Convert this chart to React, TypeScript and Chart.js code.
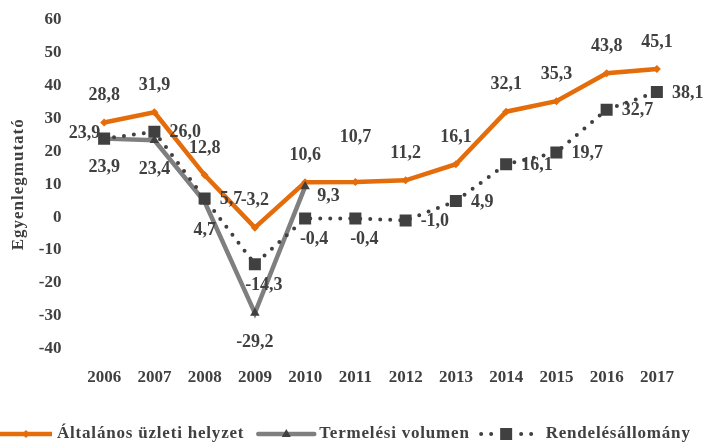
import React, { useEffect, useRef } from 'react';
import { Chart, registerables } from 'chart.js';

Chart.register(...registerables);

// ---- data ----
const YEARS = ['2006', '2007', '2008', '2009', '2010', '2011', '2012', '2013', '2014', '2015', '2016', '2017'];
const GENERAL = [28.8, 31.9, 12.8, -3.2, 10.6, 10.7, 11.2, 16.1, 32.1, 35.3, 43.8, 45.1];
const PRODUCTION = [23.9, 23.4, 4.7, -29.2, 9.3, null, null, null, null, null, null, null];
const ORDERS = [23.9, 26.0, 5.7, -14.3, -0.4, -0.4, -1.0, 4.9, 16.1, 19.7, 32.7, 38.1];
const SERIES_NAMES = ['Általános üzleti helyzet', 'Termelési volumen', 'Rendelésállomány'];
const Y_TITLE = 'Egyenlegmutató';
const Y_MIN = -40;
const Y_MAX = 60;
const Y_STEP = 10;

// ---- label placement (style, not data) ----
const GENERAL_LABEL_POS = ['above', 'above', 'above', 'above', 'above', 'above-high', 'above', 'above', 'above', 'above', 'above', 'above'];
const PRODUCTION_LABEL_POS = ['below', 'below', 'below', 'below', 'right-low'];
const ORDERS_LABEL_POS = ['left', 'right', 'right', 'below-right', 'below-right', 'below-right', 'right', 'right', 'right', 'right', 'right', 'right'];

const ORANGE = '#E46C0A';
const GREY = '#7F7F7F';
const DARK = '#404040';
const FONT = "'Liberation Serif', 'Times New Roman', serif";

const fmt = (v: number) => v.toFixed(1).replace('.', ',');

const labelsPlugin = {
  id: 'customLabels',
  afterDatasetsDraw(chart: any) {
    const ctx = chart.ctx;
    const posSets = [GENERAL_LABEL_POS, PRODUCTION_LABEL_POS, ORDERS_LABEL_POS];
    ctx.save();
    ctx.font = `bold 18px ${FONT}`;
    ctx.fillStyle = DARK;
    ctx.textBaseline = 'middle';
    chart.data.datasets.forEach((ds: any, di: number) => {
      const meta = chart.getDatasetMeta(di);
      meta.data.forEach((pt: any, i: number) => {
        const v = ds.data[i];
        if (v === null || v === undefined) return;
        const pos = posSets[di][i] || 'above';
        const { x, y } = pt;
        const t = fmt(v);
        let tx = x, ty = y;
        let align: CanvasTextAlign = 'center';
        switch (pos) {
          case 'above': ty = y - 27; break;
          case 'above-high': ty = y - 45; break;
          case 'below': ty = y + 29; break;
          case 'below-right': tx = x + 9; ty = y + 21; break;
          case 'right': align = 'left'; tx = x + 15; ty = y + 1; break;
          case 'right-low': align = 'left'; tx = x + 12; ty = y + 10; break;
          case 'left': align = 'right'; tx = x - 4; ty = y - 5; break;
        }
        ctx.textAlign = align;
        ctx.fillText(t, tx, ty);
      });
    });
    ctx.restore();
  },
};

function drawSample(ctx: CanvasRenderingContext2D, kind: number, x0: number, w: number, y: number) {
  ctx.save();
  if (kind === 0) {
    ctx.strokeStyle = ORANGE;
    ctx.lineWidth = 4.5;
    ctx.beginPath();
    ctx.moveTo(x0, y);
    ctx.lineTo(x0 + w, y);
    ctx.stroke();
    ctx.fillStyle = ORANGE;
    const cx = x0 + w / 2;
    ctx.beginPath();
    ctx.moveTo(cx, y - 4);
    ctx.lineTo(cx + 4, y);
    ctx.lineTo(cx, y + 4);
    ctx.lineTo(cx - 4, y);
    ctx.closePath();
    ctx.fill();
  } else if (kind === 1) {
    ctx.strokeStyle = GREY;
    ctx.lineWidth = 4.5;
    ctx.lineCap = 'round';
    ctx.beginPath();
    ctx.moveTo(x0 + 2, y);
    ctx.lineTo(x0 + w - 2, y);
    ctx.stroke();
    ctx.fillStyle = DARK;
    const cx = x0 + w / 2;
    ctx.beginPath();
    ctx.moveTo(cx, y - 5);
    ctx.lineTo(cx + 4.5, y + 3);
    ctx.lineTo(cx - 4.5, y + 3);
    ctx.closePath();
    ctx.fill();
  } else {
    ctx.fillStyle = DARK;
    const cx = x0 + w / 2;
    [-25, -15, 15, 25].forEach((d) => {
      ctx.beginPath();
      ctx.arc(cx + d, y, 2, 0, Math.PI * 2);
      ctx.fill();
    });
    ctx.fillRect(cx - 6, y - 6, 12, 12);
  }
  ctx.restore();
}

const decorPlugin = {
  id: 'decor',
  afterDraw(chart: any) {
    const ctx: CanvasRenderingContext2D = chart.ctx;
    const area = chart.chartArea;
    // y-axis title
    ctx.save();
    ctx.fillStyle = DARK;
    ctx.font = `bold 17px ${FONT}`;
    (ctx as any).letterSpacing = '1px';
    ctx.translate(19, (area.top + area.bottom) / 2);
    ctx.rotate(-Math.PI / 2);
    ctx.textAlign = 'center';
    ctx.textBaseline = 'middle';
    ctx.fillText(Y_TITLE, 0, 0);
    ctx.restore();

    // legend
    ctx.save();
    ctx.font = `bold 17px ${FONT}`;
    (ctx as any).letterSpacing = '0.8px';
    ctx.fillStyle = DARK;
    ctx.textBaseline = 'middle';
    ctx.textAlign = 'left';
    const y = 434;
    const sampleW = [52, 60, 57];
    const gapBefore = [0, 12, 8];
    const gapText = [5, 3, 11];
    let x = 0;
    SERIES_NAMES.forEach((name, i) => {
      x += gapBefore[i];
      drawSample(ctx, i, x, sampleW[i], y);
      x += sampleW[i] + gapText[i];
      ctx.fillText(name, x, y);
      x += ctx.measureText(name).width;
    });
    (ctx as any).letterSpacing = '0px';
    ctx.restore();
  },
};

export default function App() {
  const ref = useRef<HTMLCanvasElement | null>(null);

  useEffect(() => {
    if (!ref.current) return;
    const chart = new Chart(ref.current, {
      type: 'line',
      data: {
        labels: YEARS,
        datasets: [
          {
            label: SERIES_NAMES[0],
            data: GENERAL,
            borderColor: ORANGE,
            backgroundColor: ORANGE,
            borderWidth: 4.5,
            pointStyle: 'rectRot',
            pointRadius: 4,
            pointBorderWidth: 0,
            pointBackgroundColor: ORANGE,
            tension: 0,
            order: 2,
          },
          {
            label: SERIES_NAMES[1],
            data: PRODUCTION,
            borderColor: GREY,
            backgroundColor: DARK,
            borderWidth: 4.5,
            pointStyle: 'triangle',
            pointRadius: 5.5,
            pointBorderWidth: 0,
            pointBackgroundColor: DARK,
            tension: 0,
            spanGaps: false,
            order: 1,
          },
          {
            label: SERIES_NAMES[2],
            data: ORDERS,
            borderColor: DARK,
            backgroundColor: DARK,
            borderWidth: 4,
            borderDash: [0, 10],
            borderCapStyle: 'round',
            pointStyle: 'rect',
            pointRadius: 8.5,
            pointBorderWidth: 0,
            pointBackgroundColor: DARK,
            tension: 0,
            order: 0,
          },
        ] as any,
      },
      options: {
        responsive: false,
        animation: false,
        devicePixelRatio: 1,
        layout: { padding: { left: 0, right: 26, top: 20, bottom: 40 } },
        plugins: {
          legend: { display: false },
          tooltip: { enabled: false },
        },
        scales: {
          x: {
            offset: true,
            grid: { display: false, drawTicks: false },
            border: { display: false },
            afterFit: (scale: any) => {
              scale.paddingLeft = 0;
              scale.paddingRight = 0;
            },
            ticks: {
              color: DARK,
              font: { family: FONT, size: 17, weight: 'bold' },
              padding: 19,
              maxRotation: 0,
              autoSkip: false,
            },
          },
          y: {
            min: Y_MIN,
            max: Y_MAX,
            grid: { display: false, drawTicks: false },
            border: { display: false },
            afterFit: (scale: any) => {
              scale.width = 79;
              scale.paddingTop = 0;
              scale.paddingBottom = 0;
            },
            ticks: {
              stepSize: Y_STEP,
              color: DARK,
              font: { family: FONT, size: 17, weight: 'bold' },
              padding: 17.5,
            },
          },
        },
      } as any,
      plugins: [labelsPlugin, decorPlugin],
    });
    return () => chart.destroy();
  }, []);

  return (
    <div style={{ position: 'absolute', left: 0, top: 0, width: 708, height: 447, background: '#fff' }}>
      <canvas ref={ref} width={708} height={447} style={{ display: 'block' }} />
    </div>
  );
}
